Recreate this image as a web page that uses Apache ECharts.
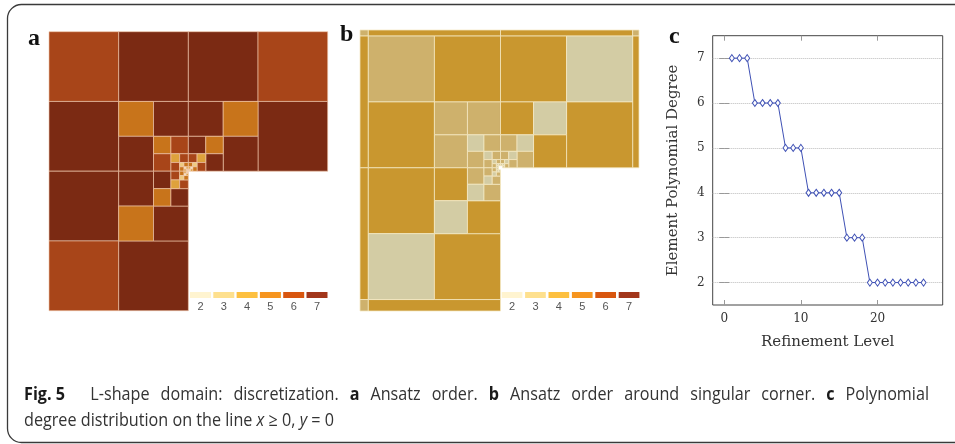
<!DOCTYPE html>
<html><head><meta charset="utf-8">
<script src="https://cdn.jsdelivr.net/npm/echarts@6/dist/echarts.min.js"></script>
<style>html,body{margin:0;padding:0;background:#fff}#c{width:955px;height:444px}</style>
</head><body><div id="c"></div>
<script>
// ---------- data ----------
// panel a: quadtree cells [x0, y0, size, degree]
const cellsA = [
  [-1,0.5,0.5,6],[-0.5,0.5,0.5,7],[0,0.5,0.5,7],[0.5,0.5,0.5,6],
  [-1,0,0.5,7],[0.5,0,0.5,7],
  [-1,-0.5,0.5,7],
  [-1,-1,0.5,6],[-0.5,-1,0.5,7],
  [-0.5,0.25,0.25,5],[-0.25,0.25,0.25,7],[-0.5,0,0.25,7],
  [0,0.25,0.25,7],[0.25,0.25,0.25,5],[0.25,0,0.25,7],
  [-0.5,-0.25,0.25,7],[-0.5,-0.5,0.25,5],[-0.25,-0.5,0.25,7],
  [-0.25,0.125,0.125,5],[-0.125,0.125,0.125,6],[-0.25,0,0.125,6],
  [0,0.125,0.125,7],[0.125,0.125,0.125,5],[0.125,0,0.125,7],
  [-0.25,-0.125,0.125,7],[-0.25,-0.25,0.125,5],[-0.125,-0.25,0.125,7],
  [-0.125,0.0625,0.0625,4],[-0.0625,0.0625,0.0625,6],[-0.125,0,0.0625,6],
  [0,0.0625,0.0625,6],[0.0625,0.0625,0.0625,4],[0.0625,0,0.0625,6],
  [-0.125,-0.0625,0.0625,6],[-0.125,-0.125,0.0625,4],[-0.0625,-0.125,0.0625,6],
  [-0.0625,0.03125,0.03125,3],[-0.03125,0.03125,0.03125,5],[-0.0625,0,0.03125,5],
  [0,0.03125,0.03125,5],[0.03125,0.03125,0.03125,3],[0.03125,0,0.03125,5],
  [-0.0625,-0.03125,0.03125,5],[-0.0625,-0.0625,0.03125,3],[-0.03125,-0.0625,0.03125,5],
  [-0.03125,0.015625,0.015625,2],[-0.015625,0.015625,0.015625,4],[-0.03125,0,0.015625,4],
  [0,0.015625,0.015625,4],[0.015625,0.015625,0.015625,2],[0.015625,0,0.015625,4],
  [-0.03125,-0.015625,0.015625,4],[-0.03125,-0.03125,0.015625,2],[-0.015625,-0.03125,0.015625,4],
  [-0.015625,0.0078125,0.0078125,2],[-0.0078125,0.0078125,0.0078125,3],[-0.015625,0,0.0078125,3],[-0.0078125,0,0.0078125,2],
  [0,0.0078125,0.0078125,3],[0.0078125,0.0078125,0.0078125,2],[0.0078125,0,0.0078125,3],[0,0,0.0078125,2],
  [-0.015625,-0.0078125,0.0078125,3],[-0.015625,-0.015625,0.0078125,2],[-0.0078125,-0.015625,0.0078125,3],[-0.0078125,-0.0078125,0.0078125,2]
];
// panel b: cells [x0, y0, size, class]  (1 gold, 2 tan, 3 pale)
const cellsB = [
  [-1,0.5,0.5,2],[-0.5,0.5,0.5,1],[0,0.5,0.5,1],[0.5,0.5,0.5,3],
  [-1,0,0.5,1],[0.5,0,0.5,1],
  [-1,-0.5,0.5,1],
  [-1,-1,0.5,3],[-0.5,-1,0.5,1],
  [-0.5,0.25,0.25,2],[-0.25,0.25,0.25,2],[-0.5,0,0.25,2],
  [0,0.25,0.25,1],[0.25,0.25,0.25,3],[0.25,0,0.25,1],
  [-0.5,-0.25,0.25,1],[-0.5,-0.5,0.25,3],[-0.25,-0.5,0.25,1],
  [-0.25,0.125,0.125,3],[-0.125,0.125,0.125,2],[-0.25,0,0.125,2],
  [0,0.125,0.125,2],[0.125,0.125,0.125,3],[0.125,0,0.125,2],
  [-0.25,-0.125,0.125,2],[-0.25,-0.25,0.125,3],[-0.125,-0.25,0.125,2],
  [-0.125,0.0625,0.0625,3],[-0.0625,0.0625,0.0625,2],[-0.125,0,0.0625,2],
  [0,0.0625,0.0625,2],[0.0625,0.0625,0.0625,3],[0.0625,0,0.0625,2],
  [-0.125,-0.0625,0.0625,2],[-0.125,-0.125,0.0625,3],[-0.0625,-0.125,0.0625,2],
  [-0.0625,0.03125,0.03125,3],[-0.03125,0.03125,0.03125,2],[-0.0625,0,0.03125,2],
  [0,0.03125,0.03125,2],[0.03125,0.03125,0.03125,3],[0.03125,0,0.03125,2],
  [-0.0625,-0.03125,0.03125,2],[-0.0625,-0.0625,0.03125,3],[-0.03125,-0.0625,0.03125,2],
  [-0.03125,0.015625,0.015625,3],[-0.015625,0.015625,0.015625,3],[-0.03125,0,0.015625,3],
  [0,0.015625,0.015625,3],[0.015625,0.015625,0.015625,3],[0.015625,0,0.015625,3],
  [-0.03125,-0.015625,0.015625,3],[-0.03125,-0.03125,0.015625,3],[-0.015625,-0.03125,0.015625,3]
];
// panel b: thin boundary strips [x0, y0, w, h, class]
const stripsB = [
  [-1.063,1,0.063,0.046,2],[-1,1,1,0.046,1],[0,1,1,0.046,1],[1,1,0.048,0.046,2],
  [-1.063,0,0.063,1,1],[-1.063,-1,0.063,1,1],[1,0,0.048,1,1],
  [-1.063,-1.087,0.063,0.087,2],[-1,-1.087,1,0.087,1]
];
const legendDegrees = [2,3,4,5,6,7];
const legendColors = ['#FFF4D0','#FEE08E','#FDC040','#F6951F','#D8560F','#A2361B'];
const degreeColorsA = {2:'#F7EBC8',3:'#EFCB80',4:'#DEA23C',5:'#C8741B',6:'#A84519',7:'#7B2A13'};
const classColorsB = {1:'#C9972F',2:'#CEB16C',3:'#D3CCA4'};
// panel c
const refinementLevel = [1,2,3,4,5,6,7,8,9,10,11,12,13,14,15,16,17,18,19,20,21,22,23,24,25,26];
const polyDegree      = [7,7,7,6,6,6,6,5,5,5,4,4,4,4,4,3,3,3,2,2,2,2,2,2,2,2];
const xTicksC = [0,10,20];
const yTicksC = [2,3,4,5,6,7];
// caption (line 1 is justified word by word)
const captionWords1 = [['Fig. 5','b'],['L-shape','n'],['domain:','n'],['discretization.','n'],['a','b'],['Ansatz','n'],['order.','n'],['b','b'],['Ansatz','n'],['order','n'],['around','n'],['singular','n'],['corner.','n'],['c','b'],['Polynomial','n']];
const captionLine2 = [['degree distribution on the line ','n'],['x','i'],[' \u2265 0, ','n'],['y','i'],[' = 0','n']];

// ---------- chart ----------
const chart = echarts.init(document.getElementById('c'), null, {renderer:'canvas'});
const serif = '"DejaVu Serif", "Liberation Serif", serif';
const capFont = '"Open Sans", "Noto Sans", sans-serif';
const capSize = 18;

function squareRender(colorMap, stroke) {
  return function (params, api) {
    const x0 = api.value(0), y0 = api.value(1), s = api.value(2), v = api.value(3);
    const p1 = api.coord([x0, y0 + s]), p2 = api.coord([x0 + s, y0]);
    return {type:'rect', shape:{x:p1[0], y:p1[1], width:p2[0]-p1[0], height:p2[1]-p1[1]},
      style:{fill:colorMap[v], stroke:stroke, lineWidth:0.9}};
  };
}
function stripRender(colorMap, stroke) {
  return function (params, api) {
    const x0 = api.value(0), y0 = api.value(1), w = api.value(2), h = api.value(3), v = api.value(4);
    const p1 = api.coord([x0, y0 + h]), p2 = api.coord([x0 + w, y0]);
    return {type:'rect', shape:{x:p1[0], y:p1[1], width:p2[0]-p1[0], height:p2[1]-p1[1]},
      style:{fill:colorMap[v], stroke:stroke, lineWidth:0.9}};
  };
}

// caption measurement
const mctx = document.createElement('canvas').getContext('2d');
function segWidth(seg) {
  mctx.font = (seg[1]==='i'?'italic ':'') + (seg[1]==='b'?'bold ':'') + capSize + 'px ' + capFont;
  return mctx.measureText(seg[0]).width;
}
const w2 = captionLine2.reduce((a, s) => a + segWidth(s), 0);
const capScale = 310 / w2;
function richText(segs) {
  return segs.map(s => s[1]==='n' ? s[0] : '{' + s[1] + '|' + s[0] + '}').join('');
}
const capRich = {
  b:{fontWeight:'bold', fontSize:capSize, fontFamily:capFont, fill:'#1a1a1a'},
  i:{fontStyle:'italic', fontSize:capSize, fontFamily:capFont, fill:'#333'}
};

const graphics = [];
graphics.push({type:'rect', silent:true, z:-1,
  shape:{x:7.5, y:4.5, width:1000, height:438, r:14},
  style:{fill:'none', stroke:'#3a3a3a', lineWidth:1.3}});
[['a',28,38.5],['b',340,35],['c',669,37]].forEach(l => {
  graphics.push({type:'text', x:l[1], y:l[2], style:{text:l[0], fontFamily:'"Liberation Serif", serif', fontWeight:'bold', fontSize:24,
    fill:'#111', align:'left', verticalAlign:'middle', textAlign:'left', textVerticalAlign:'middle'}});
});
function addLegend(x0, pitch, sw) {
  legendDegrees.forEach((d, i) => {
    graphics.push({type:'rect', shape:{x:x0 + i*pitch, y:292, width:sw, height:6}, style:{fill:legendColors[i]}});
    graphics.push({type:'text', x:x0 + i*pitch + sw/2, y:306.5, style:{text:String(d), fontFamily:'"Liberation Sans", sans-serif', fontSize:11,
      fill:'#555', align:'center', verticalAlign:'middle', textAlign:'center', textVerticalAlign:'middle'}});
  });
}
addLegend(190, 23.3, 21);
addLegend(501.7, 23.4, 20.7);

// caption line 1: justified across 24..929
(function () {
  const widths = captionWords1.map(w => segWidth(w) * capScale);
  const total = widths.reduce((a, b) => a + b, 0);
  const weights = captionWords1.map((w, i) => i === 0 ? 0 : (i === 1 ? 2.3 : 1));
  const wsum = weights.reduce((a, b) => a + b, 0);
  const gap = (905 - total) / wsum;
  let x = 24;
  captionWords1.forEach((w, i) => {
    x += weights[i] * gap;
    graphics.push({type:'text', x:x, y:395, scaleX:capScale, style:{text:w[0], fontFamily:capFont, fontSize:capSize,
      fontWeight:w[1]==='b'?'bold':'normal', fill:w[1]==='b'?'#1a1a1a':'#333',
      align:'left', verticalAlign:'middle', textAlign:'left', textVerticalAlign:'middle'}});
    x += widths[i];
  });
})();
graphics.push({type:'text', x:24, y:421, scaleX:capScale, style:{text:richText(captionLine2), rich:capRich,
  fontFamily:capFont, fontSize:capSize, fill:'#333', align:'left', verticalAlign:'middle', textAlign:'left', textVerticalAlign:'middle'}});

const tickStyle = {show:true, inside:true, length:5, lineStyle:{color:'#999', width:1}};
const option = {
  animation:false,
  backgroundColor:'#fff',
  grid:[
    {left:49, top:31.7, width:278.7, height:279},
    {left:360, top:30, width:279, height:281},
    {left:712.7, top:35.7, width:230, height:269.3, show:true, borderColor:'#444', borderWidth:1, backgroundColor:'transparent'}
  ],
  xAxis:[
    {gridIndex:0, type:'value', min:-1, max:1, show:false},
    {gridIndex:1, type:'value', min:-1.063, max:1.048, show:false},
    {gridIndex:2, type:'value', min:-1.5, max:28.5, position:'bottom',
      axisLine:{show:false}, splitLine:{show:false},
      axisTick:Object.assign({}, tickStyle, {customValues:xTicksC}),
      axisLabel:{customValues:xTicksC, fontFamily:serif, fontSize:12, color:'#333', margin:8},
      name:'Refinement Level', nameLocation:'middle', nameGap:30,
      nameTextStyle:{fontFamily:serif, fontSize:15, color:'#333'}},
    {gridIndex:2, type:'value', min:-1.5, max:28.5, position:'top',
      axisLine:{show:false}, splitLine:{show:false},
      axisTick:Object.assign({}, tickStyle, {customValues:xTicksC}),
      axisLabel:{show:false}}
  ],
  yAxis:[
    {gridIndex:0, type:'value', min:-1, max:1, show:false},
    {gridIndex:1, type:'value', min:-1.087, max:1.046, show:false},
    {gridIndex:2, type:'value', min:1.5, max:7.5, position:'left',
      axisLine:{show:false},
      splitLine:{show:true, lineStyle:{type:'dotted', color:'#bbb', width:1}},
      axisTick:Object.assign({}, tickStyle, {customValues:yTicksC}),
      axisLabel:{customValues:yTicksC, fontFamily:serif, fontSize:12, color:'#333', margin:8},
      name:'Element Polynomial Degree', nameLocation:'middle', nameGap:32,
      nameTextStyle:{fontFamily:serif, fontSize:15, color:'#333'}},
    {gridIndex:2, type:'value', min:1.5, max:7.5, position:'right',
      axisLine:{show:false}, splitLine:{show:false},
      axisTick:Object.assign({}, tickStyle, {customValues:yTicksC}),
      axisLabel:{show:false}}
  ],
  series:[
    {type:'custom', xAxisIndex:0, yAxisIndex:0, data:cellsA, renderItem:squareRender(degreeColorsA, 'rgba(240,200,170,0.7)'), silent:true},
    {type:'custom', xAxisIndex:1, yAxisIndex:1, data:stripsB, renderItem:stripRender(classColorsB, 'rgba(245,232,195,0.85)'), silent:true},
    {type:'custom', xAxisIndex:1, yAxisIndex:1, data:cellsB, renderItem:squareRender(classColorsB, 'rgba(245,232,195,0.85)'), silent:true},
    {type:'line', xAxisIndex:2, yAxisIndex:2, data:refinementLevel.map((x, i) => [x, polyDegree[i]]),
      symbol:'diamond', symbolSize:[5,7], showAllSymbol:true,
      itemStyle:{color:'#ffffff', borderColor:'#3F51B5', borderWidth:1},
      lineStyle:{color:'#3F51B5', width:1}, z:5}
  ],
  graphic:graphics
};
chart.setOption(option);
</script>
</body></html>
